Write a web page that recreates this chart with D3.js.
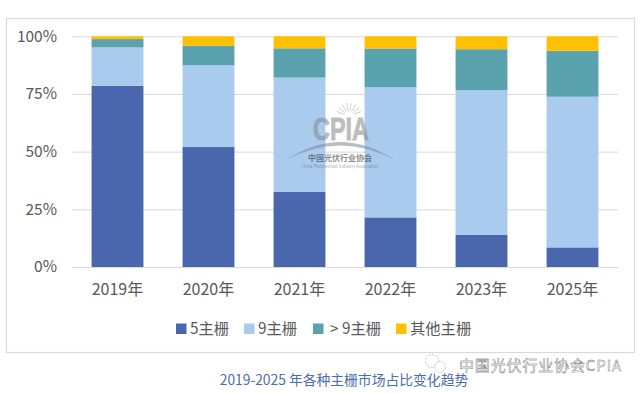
<!DOCTYPE html>
<html>
<head>
<meta charset="utf-8">
<script src="https://cdn.jsdelivr.net/npm/d3@7"></script>
<style>
  html, body { margin: 0; padding: 0; background: #fff; }
  svg { display: block; }
  text { font-family: "Noto Sans CJK SC", "Noto Sans", sans-serif; }
</style>
</head>
<body>
<svg id="canvas" width="641" height="393"></svg>
<script>
const years = ['2019年', '2020年', '2021年', '2022年', '2023年', '2025年'];
const busbar5 = [78.6, 52.0, 32.5, 21.5, 13.9, 8.5];
const busbar9 = [16.6, 35.4, 49.6, 56.5, 62.8, 65.3];
const busbarOver9 = [3.6, 8.5, 12.7, 16.7, 17.7, 19.9];
const busbarOther = [1.2, 4.1, 5.2, 5.3, 5.6, 6.3];
const seriesNames = ['5主栅', '9主栅', '> 9主栅', '其他主栅'];
const seriesColors = ['#4a66ac', '#a9cbee', '#5aa2ae', '#ffc000'];
const yTicks = [0, 25, 50, 75, 100];

const svg = d3.select('#canvas');

// outer frame
svg.append('rect')
  .attr('x', 6.5).attr('y', 18.5)
  .attr('width', 628).attr('height', 334)
  .attr('fill', '#fff').attr('stroke', '#d9d9d9').attr('stroke-width', 1.2);

const x = d3.scaleBand().domain(years).range([72, 618]).paddingInner(0.43).paddingOuter(0.215);
const y = d3.scaleLinear().domain([0, 100]).range([267, 36.3]);

// gridlines + y labels
const yAxis = svg.append('g')
  .attr('transform', 'translate(72,0)')
  .call(d3.axisLeft(y).tickValues(yTicks).tickFormat(d => d + '%').tickSize(-546).tickPadding(15));
yAxis.select('.domain').remove();
yAxis.selectAll('line').attr('stroke', '#d9d9d9').attr('stroke-width', 1);
yAxis.selectAll('text').attr('fill', '#595959').attr('font-size', 15.5)
  .style('font-family', '"Noto Sans CJK SC", sans-serif');

// stacked bars
const rows = years.map((year, i) => ({
  year, a: busbar5[i], b: busbar9[i], c: busbarOver9[i], d: busbarOther[i]
}));
const stacked = d3.stack().keys(['a', 'b', 'c', 'd'])(rows);

svg.append('g').selectAll('g')
  .data(stacked)
  .join('g')
  .attr('fill', (d, i) => seriesColors[i])
  .selectAll('rect')
  .data(d => d)
  .join('rect')
  .attr('x', d => x(d.data.year))
  .attr('y', d => y(d[1]))
  .attr('width', x.bandwidth())
  .attr('height', d => y(d[0]) - y(d[1]));

// x labels
const xAxis = svg.append('g')
  .attr('transform', 'translate(0,267)')
  .call(d3.axisBottom(x).tickSize(0).tickPadding(17));
xAxis.select('.domain').remove();
xAxis.selectAll('text').attr('fill', '#595959').attr('font-size', 16)
  .style('font-family', '"Noto Sans CJK SC", sans-serif');

// legend
const legendX = [176, 244, 313, 396];
const legend = svg.append('g').selectAll('g')
  .data(seriesNames)
  .join('g')
  .attr('transform', (d, i) => `translate(${legendX[i]},323.5)`);
legend.append('rect')
  .attr('width', 10.5).attr('height', 10.5)
  .attr('fill', (d, i) => seriesColors[i]);
legend.append('text')
  .attr('x', (d, i) => i === 2 ? 17 : 14)
  .attr('y', 10.5)
  .attr('fill', '#595959')
  .attr('font-size', 15.3)
  .text(d => d);

// CPIA watermark in the middle of the plot
const mark = svg.append('g').attr('opacity', 0.55);
mark.append('text')
  .attr('x', 341).attr('y', 140)
  .attr('text-anchor', 'middle')
  .attr('font-size', 32).attr('font-weight', 700)
  .attr('fill', '#888').attr('stroke', '#888').attr('stroke-width', 0.9)
  .attr('textLength', 56).attr('lengthAdjust', 'spacingAndGlyphs')
  .style('font-family', '"Liberation Sans Narrow", "Liberation Sans", sans-serif')
  .text('CPIA');
mark.append('path')
  .attr('d', 'M286,160 Q340,124 395,160 Q340,131 286,160 Z')
  .attr('fill', '#7f8a98');
mark.append('path')
  .attr('d', d3.range(-70, 71, 20).map(a => {
    const r = a * Math.PI / 180;
    return `M${349 + 5 * Math.sin(r)},${116 - 5 * Math.cos(r)}L${349 + 13 * Math.sin(r)},${116 - 13 * Math.cos(r)}`;
  }).join(''))
  .attr('stroke', '#aaa').attr('stroke-width', 1).attr('fill', 'none');
mark.append('text')
  .attr('x', 340).attr('y', 161)
  .attr('text-anchor', 'middle')
  .attr('font-size', 8).attr('font-weight', 700)
  .attr('fill', '#333')
  .text('中国光伏行业协会');
mark.append('text')
  .attr('x', 340).attr('y', 168)
  .attr('text-anchor', 'middle')
  .attr('font-size', 4.2)
  .attr('fill', '#666')
  .text('China Photovoltaic Industry Association');

// caption
svg.append('text')
  .attr('x', 344).attr('y', 385)
  .attr('text-anchor', 'middle')
  .attr('font-size', 13.8)
  .attr('fill', '#4a6cb0')
  .text('2019-2025 年各种主栅市场占比变化趋势');

// wechat stamp bottom right
const stamp = svg.append('g');
stamp.append('circle').attr('cx', 432).attr('cy', 361).attr('r', 6.5)
  .attr('fill', '#fff').attr('stroke', '#bbb').attr('stroke-width', 0.8).attr('stroke-dasharray', '2 1');
stamp.append('circle').attr('cx', 440).attr('cy', 367).attr('r', 5.5)
  .attr('fill', '#fff').attr('stroke', '#bbb').attr('stroke-width', 0.8).attr('stroke-dasharray', '2 1');
stamp.append('text')
  .attr('x', 459).attr('y', 371)
  .attr('font-size', 15)
  .attr('fill', '#fff').attr('stroke', '#666').attr('stroke-width', 0.4)
  .attr('textLength', 162)
  .text('中国光伏行业协会CPIA');
</script>
</body>
</html>
